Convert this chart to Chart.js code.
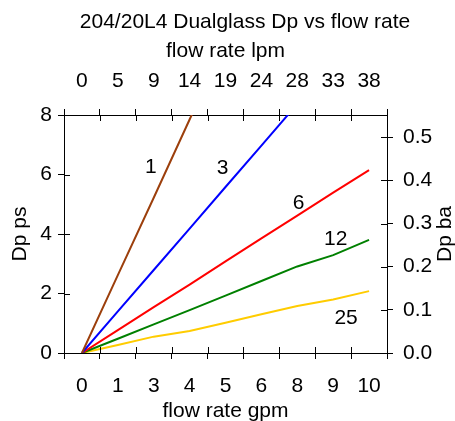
<!DOCTYPE html>
<html>
<head>
<meta charset="utf-8">
<script src="https://cdn.jsdelivr.net/npm/chart.js@4.4.0/dist/chart.umd.min.js"></script>
<style>
  html, body { margin: 0; padding: 0; background: #fff; }
</style>
</head>
<body>
<canvas id="dpChart" width="455" height="421"></canvas>
<script>
// flow in gpm, pressure drop in psi
const gpm = [0, 1.25, 2.5, 3.75, 5, 6.25, 7.5, 8.75, 10];
const dp1 = [0, 2.62, 5.22, 7.85, 10.45];
const dp3 = [0, 1.40, 2.79, 4.18, 5.58, 6.97, 8.37];
const dp6 = [0, 0.77, 1.54, 2.30, 3.08, 3.85, 4.62, 5.39, 6.15];
const dp12 = [0, 0.48, 0.96, 1.44, 1.93, 2.42, 2.91, 3.29, 3.80];
const dp25 = [0, 0.27, 0.55, 0.74, 1.02, 1.30, 1.58, 1.80, 2.08];

const seriesNames = ['1', '3', '6', '12', '25'];
const nameX = [2.40, 4.90, 7.55, 8.84, 9.20];
const nameY = [6.26, 6.22, 5.04, 3.83, 1.18];

const gpmTicks = [0, 1.25, 2.5, 3.75, 5, 6.25, 7.5, 8.75, 10];
const psiTicks = [0, 2, 4, 6, 8];
const barTicks = [0, 0.1, 0.2, 0.3, 0.4, 0.5];

const PSI_PER_BAR = 14.5038;
const LPM_PER_GPM = 3.785;

const FONT = { family: "'Liberation Sans', Arial, sans-serif", size: 21 };
const BLACK = '#000';

function pts(ys) {
    return ys.map((y, i) => ({ x: gpm[i], y: y }));
}

function setTicks(list) {
    return scale => { scale.ticks = list.map(v => ({ value: v })); };
}

// crossing tick marks on the inner side + free text
const extras = {
    id: 'extras',
    afterDraw(chart) {
        const { ctx, chartArea: a, scales } = chart;
        const half = (gpmTicks[1] - gpmTicks[0]) / 2;
        const grid = gpmTicks.map(v => v - half).concat([gpmTicks[gpmTicks.length - 1] + half]);
        ctx.save();
        ctx.strokeStyle = BLACK;
        ctx.lineWidth = 1;
        ctx.beginPath();
        grid.forEach(v => {
            const px = Math.round(scales.x.getPixelForValue(v)) + 0.5;
            ctx.moveTo(px, a.bottom); ctx.lineTo(px, a.bottom - 6);
            ctx.moveTo(px, a.top); ctx.lineTo(px, a.top + 6);
        });
        psiTicks.forEach(v => {
            const py = Math.round(scales.y.getPixelForValue(v)) + 0.5;
            ctx.moveTo(a.left, py); ctx.lineTo(a.left + 6, py);
        });
        barTicks.forEach(v => {
            const py = Math.round(scales.y2.getPixelForValue(v)) + 0.5;
            ctx.moveTo(a.right, py); ctx.lineTo(a.right - 6, py);
        });
        ctx.stroke();

        ctx.fillStyle = BLACK;
        ctx.font = FONT.size + 'px ' + FONT.family;
        ctx.textAlign = 'center';
        ctx.textBaseline = 'middle';
        seriesNames.forEach((n, i) => {
            ctx.fillText(n, scales.x.getPixelForValue(nameX[i]), scales.y.getPixelForValue(nameY[i]));
        });

        ctx.fillText('204/20L4 Dualglass Dp vs flow rate', 245, 22);

        ctx.translate(445, (a.top + a.bottom) / 2);
        ctx.rotate(-Math.PI / 2);
        ctx.fillText('Dp ba', 0, 0);
        ctx.restore();
    }
};

const ctx = document.getElementById('dpChart').getContext('2d');

new Chart(ctx, {
    type: 'line',
    data: {
        datasets: [
            { label: '1', data: pts(dp1), borderColor: '#9C3F0C' },
            { label: '3', data: pts(dp3), borderColor: '#0000FF' },
            { label: '6', data: pts(dp6), borderColor: '#FF0000' },
            { label: '12', data: pts(dp12), borderColor: '#008000' },
            { label: '25', data: pts(dp25), borderColor: '#FFCC00' }
        ]
    },
    options: {
        responsive: false,
        animation: false,
        layout: { padding: 0 },
        elements: {
            line: { borderWidth: 2, tension: 0, fill: false },
            point: { radius: 0 }
        },
        plugins: {
            legend: { display: false },
            title: { display: false },
            tooltip: { enabled: false }
        },
        scales: {
            x: {
                type: 'linear', position: 'bottom', min: -0.625, max: 10.625,
                afterBuildTicks: setTicks(gpmTicks),
                afterFit: s => { s.height = 68; },
                grid: { offset: true, drawOnChartArea: false, tickLength: 6, color: BLACK },
                border: { color: BLACK },
                ticks: { callback: v => Math.round(v), padding: 15, font: FONT, color: BLACK, maxRotation: 0, autoSkip: false },
                title: { display: true, text: 'flow rate gpm', padding: { top: 0, bottom: -3 }, font: FONT, color: BLACK }
            },
            x2: {
                type: 'linear', position: 'top', min: -0.625, max: 10.625,
                afterBuildTicks: setTicks(gpmTicks),
                afterFit: s => { s.height = 115; },
                grid: { offset: true, drawOnChartArea: false, tickLength: 6, color: BLACK },
                border: { color: BLACK },
                ticks: { callback: v => Math.round(v * LPM_PER_GPM), padding: 15, font: FONT, color: BLACK, maxRotation: 0, autoSkip: false },
                title: { display: true, text: 'flow rate lpm', padding: { top: 39, bottom: 0 }, font: FONT, color: BLACK }
            },
            y: {
                type: 'linear', position: 'left', min: 0, max: 8,
                afterBuildTicks: setTicks(psiTicks),
                afterFit: s => { s.width = 64; },
                grid: { drawOnChartArea: false, tickLength: 6, color: BLACK },
                border: { color: BLACK },
                ticks: { padding: 6, font: FONT, color: BLACK },
                title: { display: true, text: 'Dp ps', padding: { top: 8, bottom: 0 }, font: FONT, color: BLACK }
            },
            y2: {
                type: 'linear', position: 'right', min: 0, max: 8 / PSI_PER_BAR,
                afterBuildTicks: setTicks(barTicks),
                afterFit: s => { s.width = 68; },
                grid: { drawOnChartArea: false, tickLength: 6, color: BLACK },
                border: { color: BLACK },
                ticks: { callback: v => v.toFixed(1), padding: 10, font: FONT, color: BLACK },
                title: { display: false }
            }
        }
    },
    plugins: [extras]
});
</script>
</body>
</html>
